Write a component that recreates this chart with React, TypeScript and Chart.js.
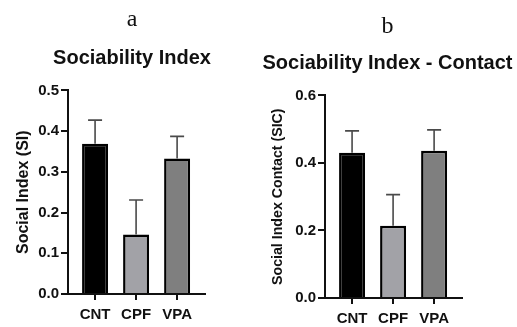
import React, { useEffect, useRef } from "react";
import { Chart, registerables } from "chart.js";

Chart.register(...registerables);

const categories = ["CNT", "CPF", "VPA"];
const barColors = ["#000000", "#a2a2a7", "#7f7f7f"];

const siMeans = [0.369, 0.146, 0.333];
const siErrTops = [0.427, 0.231, 0.387];
const siTicks = [0, 0.1, 0.2, 0.3, 0.4, 0.5];

const sicMeans = [0.43, 0.214, 0.436];
const sicErrTops = [0.495, 0.306, 0.498];
const sicTicks = [0, 0.2, 0.4, 0.6];

const FONT = "'Liberation Sans', Arial, sans-serif";

const errorBarPlugin = {
  id: "errorBars",
  afterDatasetsDraw(chart: any) {
    const errs: number[] = chart.options.plugins.errorBars.tops;
    const meta = chart.getDatasetMeta(0);
    const ys = chart.scales.y;
    const ctx = chart.ctx;
    ctx.save();
    ctx.strokeStyle = "#4a4a4a";
    ctx.lineWidth = 1.6;
    meta.data.forEach((bar: any, i: number) => {
      const yTop = ys.getPixelForValue(errs[i]);
      const x = bar.x;
      ctx.beginPath();
      ctx.moveTo(x, bar.y);
      ctx.lineTo(x, yTop);
      ctx.moveTo(x - 7, yTop);
      ctx.lineTo(x + 7, yTop);
      ctx.stroke();
    });
    ctx.restore();
  },
};

type Props = {
  letter: string;
  title: string;
  yLabel: string;
  yLabelSize: number;
  means: number[];
  errTops: number[];
  ticks: number[];
  width: number;
  left: number;
  padLeft: number;
  yWidth: number;
  yTitlePad: number;
  letterPad: number;
  titlePad: number;
  rightWidth: number;
  xHeight: number;
};

function Panel(p: Props) {
  const ref = useRef<HTMLCanvasElement | null>(null);
  useEffect(() => {
    if (!ref.current) return;
    const yMax = p.ticks[p.ticks.length - 1];
    const chart = new Chart(ref.current, {
      type: "bar",
      data: {
        datasets: [
          {
            data: p.means.map((v, i) => ({ x: i, y: v })) as any,
            backgroundColor: barColors,
            borderColor: "#000000",
            borderWidth: 2.5,
            barPercentage: 0.634,
            categoryPercentage: 1,
            yAxisID: "y",
          },
        ],
      },
      options: {
        responsive: false,
        animation: false,
        layout: { padding: { left: p.padLeft, top: 0, right: 0, bottom: 0 } },
        plugins: {
          legend: { display: false },
          tooltip: { enabled: false },
          title: {
            display: true,
            text: p.letter,
            color: "#111",
            font: { family: "'Liberation Serif', 'Times New Roman', serif", size: 24, weight: "normal" },
            padding: { top: p.letterPad, bottom: 0 },
          },
          subtitle: {
            display: true,
            text: p.title,
            color: "#111",
            font: { family: FONT, size: 20, weight: "bold" },
            padding: { top: p.titlePad, bottom: 20 },
          },
          errorBars: { tops: p.errTops },
        } as any,
        scales: {
          x: {
            type: "linear",
            offset: false,
            min: -0.66,
            max: 2.68,
            afterFit: (scale: any) => {
              scale.height = p.xHeight;
            },
            afterBuildTicks: (scale: any) => {
              scale.ticks = categories.map((_, i) => ({ value: i }));
            },
            ticks: {
              callback: (v: any) => categories[v as number] ?? "",
              color: "#111",
              font: { family: FONT, size: 15, weight: "bold" },
              padding: 6,
              autoSkip: false,
              maxRotation: 0,
            },
            grid: {
              offset: false,
              drawOnChartArea: false,
              drawTicks: true,
              tickLength: 6,
              color: "#111",
              lineWidth: 2,
            },
            border: { display: true, color: "#111", width: 2 },
          },
          y: {
            min: 0,
            max: yMax,
            afterFit: (scale: any) => {
              scale.width = p.yWidth;
            },
            afterBuildTicks: (scale: any) => {
              scale.ticks = p.ticks.map((v) => ({ value: v }));
            },
            ticks: {
              callback: (v: any) => Number(v).toFixed(1),
              color: "#111",
              font: { family: FONT, size: 15, weight: "bold" },
              padding: 2,
            },
            grid: {
              offset: false,
              drawOnChartArea: false,
              drawTicks: true,
              tickLength: 7,
              color: "#111",
              lineWidth: 2,
            },
            border: { display: true, color: "#111", width: 2 },
            title: {
              display: true,
              text: p.yLabel,
              color: "#111",
              font: { family: FONT, size: p.yLabelSize, weight: "bold" },
              padding: { top: p.yTitlePad, bottom: 0 },
            },
          },
          spacer: {
            type: "linear",
            position: "right",
            min: 0,
            max: 1,
            afterFit: (scale: any) => {
              scale.width = p.rightWidth;
            },
            ticks: { display: false },
            grid: { display: false, drawTicks: false },
            border: { display: false },
          },
        },
      } as any,
      plugins: [errorBarPlugin as any],
    });
    return () => chart.destroy();
  }, []);
  return (
    <canvas
      ref={ref}
      width={p.width}
      height={327}
      style={{ position: "absolute", left: p.left, top: 0, width: p.width, height: 327 }}
    />
  );
}

export default function App() {
  return (
    <div style={{ position: "absolute", left: 0, top: 0, width: 517, height: 327, background: "#fff" }}>
      <Panel
        letter="a"
        title="Sociability Index"
        yLabel="Social Index (SI)"
        yLabelSize={16}
        means={siMeans}
        errTops={siErrTops}
        ticks={siTicks}
        width={258}
        left={0}
        padLeft={6}
        yWidth={62}
        yTitlePad={7.5}
        letterPad={5}
        titlePad={12.6}
        rightWidth={53}
        xHeight={33}
      />
      <Panel
        letter="b"
        title="Sociability Index - Contact"
        yLabel="Social Index Contact (SIC)"
        yLabelSize={14.2}
        means={sicMeans}
        errTops={sicErrTops}
        ticks={sicTicks}
        width={259}
        left={258}
        padLeft={0}
        yWidth={67}
        yTitlePad={12}
        letterPad={12}
        titlePad={10.6}
        rightWidth={55}
        xHeight={29}
      />
    </div>
  );
}
